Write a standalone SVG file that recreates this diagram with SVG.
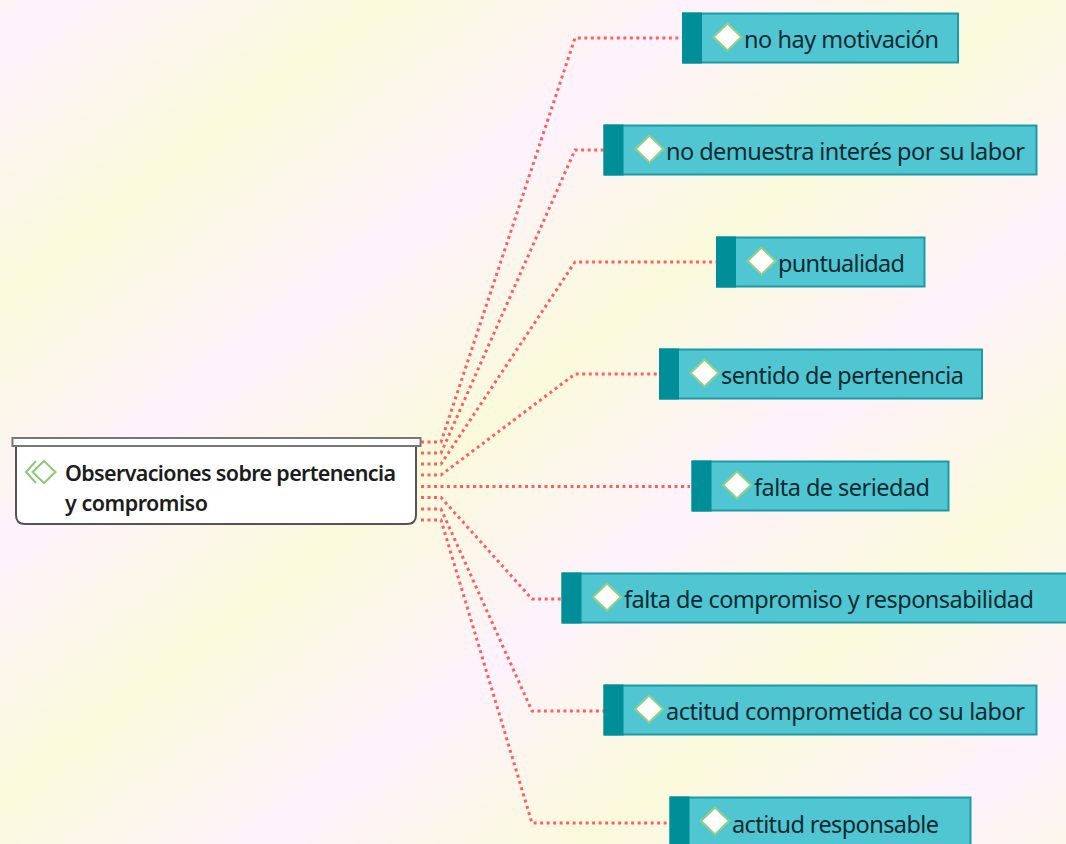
<svg xmlns="http://www.w3.org/2000/svg" width="1066" height="844" viewBox="0 0 1066 844">
<defs>
<linearGradient id="bg" gradientUnits="userSpaceOnUse" x1="0" y1="50" x2="121.300" y2="205.500" spreadMethod="reflect">
<stop offset="0" stop-color="#fef2fc"/><stop offset="1" stop-color="#fafadb"/>
</linearGradient>
<polygon id="dia" points="0,-13.500 14,0 0,13.500 -14,0" fill="#fff" stroke="#8fcf88" stroke-width="2.200"/>
</defs>
<style>
.t{font-family:"Noto Sans","Open Sans",sans-serif;font-size:23.5px;fill:#0c2a30}
.m{font-family:"Noto Sans","Open Sans",sans-serif;font-size:21.5px;font-weight:600;fill:#1c1c1c}
.b{fill:#4fc6d2;stroke:#1d9aa6;stroke-width:2}
.s{fill:#008e99}
.c{fill:none;stroke:#ff5f64;stroke-width:3;stroke-dasharray:3 3.5}
</style>
<rect width="1066" height="844" fill="url(#bg)"/>
<g id="connectors">
<path class="c" d="M421 442H441L575 38H682"/>
<path class="c" d="M421 453H441L575 150H604"/>
<path class="c" d="M421 464H441L575 262H716"/>
<path class="c" d="M421 475H441L575 374H660"/>
<path class="c" d="M421 486.500H690"/>
<path class="c" d="M421 497.500H441L532 599H562"/>
<path class="c" d="M421 509H441L532 711H604"/>
<path class="c" d="M421 520H441L532 823H670"/>
</g>
<g id="root">
<path d="M16 444H416V515Q416 524 407 524H25Q16 524 16 515Z" fill="#fff" stroke="#555" stroke-width="2"/>
<rect x="12.500" y="438" width="408" height="8" fill="#fff" stroke="#777" stroke-width="2"/>
<path d="M36 461L26 472L36 483" fill="none" stroke="#8cc878" stroke-width="2"/>
<polygon points="44,461 55.500,472 44,483 32.500,472" fill="#fff" stroke="#8cc878" stroke-width="2"/>
<text class="m" x="65" y="481" textLength="331">Observaciones sobre pertenencia</text>
<text class="m" x="65" y="511" textLength="143">y compromiso</text>
</g>
<g id="n1"><rect class="b" x="683" y="13.500" width="275" height="49"/><rect class="s" x="682" y="12.500" width="20" height="51"/><use href="#dia" x="727.500" y="37"/><text class="t" x="744" y="48" textLength="195">no hay motivación</text></g>
<g id="n2"><rect class="b" x="604.500" y="125.500" width="432" height="49"/><rect class="s" x="603.500" y="124.500" width="20" height="51"/><use href="#dia" x="649.500" y="149"/><text class="t" x="666" y="160" textLength="359">no demuestra interés por su labor</text></g>
<g id="n3"><rect class="b" x="717" y="237.500" width="207.500" height="49"/><rect class="s" x="716" y="236.500" width="20" height="51"/><use href="#dia" x="761.500" y="261"/><text class="t" x="778" y="272" textLength="127">puntualidad</text></g>
<g id="n4"><rect class="b" x="660" y="349.500" width="322" height="49"/><rect class="s" x="659" y="348.500" width="20" height="51"/><use href="#dia" x="704.500" y="373"/><text class="t" x="721" y="384" textLength="243">sentido de pertenencia</text></g>
<g id="n5"><rect class="b" x="692.500" y="461.500" width="256" height="49"/><rect class="s" x="691.500" y="460.500" width="20" height="51"/><use href="#dia" x="737" y="485"/><text class="t" x="754" y="496" textLength="176">falta de seriedad</text></g>
<g id="n6"><rect class="b" x="562.500" y="573.500" width="505" height="49"/><rect class="s" x="561.500" y="572.500" width="20" height="51"/><use href="#dia" x="607" y="597"/><text class="t" x="624" y="608" textLength="410">falta de compromiso y responsabilidad</text></g>
<g id="n7"><rect class="b" x="604.500" y="685.500" width="432" height="49"/><rect class="s" x="603.500" y="684.500" width="20" height="51"/><use href="#dia" x="649" y="709"/><text class="t" x="666" y="720" textLength="359">actitud comprometida co su labor</text></g>
<g id="n8"><rect class="b" x="670.500" y="797.500" width="300" height="49"/><rect class="s" x="669.500" y="796.500" width="20" height="51"/><use href="#dia" x="715" y="821"/><text class="t" x="732" y="833" textLength="207">actitud responsable</text></g>
</svg>
